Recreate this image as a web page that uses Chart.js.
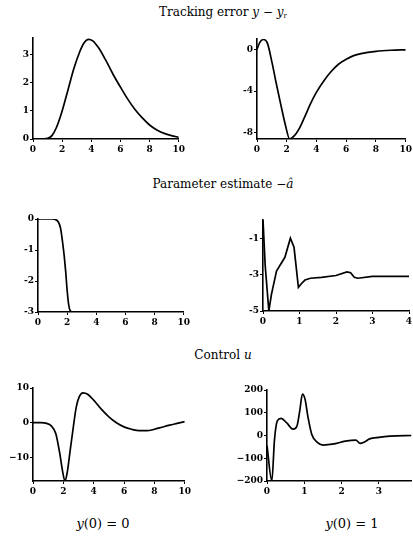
<!DOCTYPE html>
<html>
<head>
<meta charset="utf-8">
<script src="https://cdn.jsdelivr.net/npm/chart.js@4"></script>
<style>
  html, body { margin: 0; padding: 0; background: #fff; overflow: hidden; }
  #fig { position: relative; width: 413px; height: 536px; }
  #fig canvas { position: absolute; }
  .title { position: absolute; left: 0; width: 446px; text-align: center; font: 12px "DejaVu Serif", serif; color: #000; white-space: nowrap; }
  .title sub { font-size: 7px; vertical-align: -2px; line-height: 0; }
  .cap { position: absolute; width: 120px; text-align: center; font: 13px "DejaVu Serif", serif; color: #000; white-space: nowrap; }
</style>
</head>
<body>
<div id="fig">
  <div class="title" style="top:5px">Tracking error <i>y</i> − <i>y</i><sub>r</sub></div>
  <div class="title" style="top:177px">Parameter estimate −<i>â</i></div>
  <div class="title" style="top:348px">Control <i>u</i></div>
  <div class="cap" style="left:43px; top:516px"><i>y</i>(0) = 0</div>
  <div class="cap" style="left:292px; top:516px"><i>y</i>(0) = 1</div>
</div>
<script>
// DATA - tracking error, y(0)=0
const trackX0 = [0, 0.5, 1, 1.3, 1.6, 2, 2.4, 2.8, 3.2, 3.5, 3.8, 4.1, 4.5, 5, 5.5, 6, 6.5, 7, 7.5, 8, 8.5, 9, 9.5, 10];
const trackY0 = [0, 0, 0.02, 0.12, 0.4, 1.0, 1.75, 2.5, 3.1, 3.42, 3.55, 3.5, 3.25, 2.8, 2.3, 1.85, 1.42, 1.05, 0.75, 0.5, 0.32, 0.2, 0.12, 0.06];
// tracking error, y(0)=1
const trackX1 = [0, 0.2, 0.45, 0.7, 1.0, 1.3, 1.6, 1.9, 2.2, 2.5, 2.8, 3.2, 3.6, 4.0, 4.5, 5.0, 5.5, 6.0, 6.5, 7, 8, 9, 10];
const trackY1 = [0, 0.7, 0.95, 0.6, -1.2, -3.3, -5.3, -7.2, -8.6, -8.3, -7.7, -6.5, -5.2, -4.1, -3.0, -2.1, -1.4, -0.95, -0.6, -0.4, -0.18, -0.08, -0.04];
// parameter estimate, y(0)=0
const paramX0 = [0, 0.5, 1.0, 1.2, 1.4, 1.55, 1.7, 1.8, 1.9, 2.0, 2.1, 2.2, 2.35, 3, 10];
const paramY0 = [0, 0, 0, -0.02, -0.1, -0.3, -0.8, -1.2, -1.7, -2.3, -2.75, -2.95, -3, -3, -3];
// parameter estimate, y(0)=1
const paramX1 = [0, 0.06, 0.16, 0.23, 0.37, 0.6, 0.75, 0.85, 0.97, 1.05, 1.15, 1.3, 1.6, 2.0, 2.3, 2.4, 2.5, 2.6, 3.0, 4.0];
const paramY1 = [0, -2.5, -5, -4.1, -2.8, -2.05, -1.0, -1.5, -3.7, -3.5, -3.3, -3.2, -3.15, -3.05, -2.85, -2.9, -3.15, -3.2, -3.1, -3.1];
// control, y(0)=0
const ctrlX0 = [0, 0.5, 0.9, 1.2, 1.5, 1.75, 1.95, 2.1, 2.25, 2.45, 2.65, 2.85, 3.05, 3.3, 3.6, 4.0, 4.5, 5.0, 5.5, 6.0, 6.5, 7.0, 7.5, 8.0, 8.5, 9.0, 9.5, 10];
const ctrlY0 = [0, 0, -0.2, -0.9, -3.1, -8.5, -14, -16.8, -14.5, -8, -1.5, 4.5, 7.5, 8.6, 8.2, 6.5, 3.9, 1.7, 0, -1.2, -1.9, -2.3, -2.3, -1.9, -1.3, -0.7, -0.2, 0.3];
// control, y(0)=1
const ctrlX1 = [0, 0.13, 0.2, 0.28, 0.38, 0.53, 0.7, 0.8, 0.88, 0.95, 1.02, 1.1, 1.2, 1.35, 1.5, 1.8, 2.1, 2.38, 2.5, 2.6, 2.75, 3.0, 3.3, 3.9];
const ctrlY1 = [-45, -200, -20, 65, 75, 55, 28, 40, 110, 182, 160, 80, 5, -30, -42, -37, -25, -20, -35, -30, -15, -8, -3, 0];

// tick values
const xTicks10 = [0, 2, 4, 6, 8, 10];
const xTicks4 = [0, 1, 2, 3, 4];
const yTicksTrack0 = [0, 1, 2, 3];
const yTicksTrack1 = [0, -4, -8];
const yTicksParam0 = [0, -1, -2, -3];
const yTicksParam1 = [-1, -3, -5];
const yTicksCtrl0 = [10, 0, -10];
const yTicksCtrl1 = [200, 100, 0, -100, -200];

const PAD = 8, AXW = 30, AXH = 16;
const fig = document.getElementById("fig");
const tickFont = { family: "DejaVu Serif", size: 9, weight: "bold" };

function fmt(v, longMinus) {
  const s = String(v);
  return longMinus ? s.replace("-", "\u2212") : s;
}

function panel(box, xs, ys, xMin, xMax, yMin, yMax, xTicks, yTicks, smooth, longMinus) {
  const canvas = document.createElement("canvas");
  canvas.width = box.r - box.l + AXW + 2 * PAD;
  canvas.height = box.b - box.t + AXH + 2 * PAD;
  canvas.style.left = (box.l - AXW - PAD) + "px";
  canvas.style.top = (box.t - PAD) + "px";
  fig.appendChild(canvas);

  new Chart(canvas, {
    type: "line",
    data: {
      datasets: [{
        data: xs.map((x, i) => ({ x: x, y: ys[i] })),
        borderColor: "#000",
        borderWidth: 1.7,
        pointRadius: 0,
        fill: false,
        cubicInterpolationMode: smooth ? "monotone" : "default",
        tension: 0
      }]
    },
    options: {
      responsive: false,
      animation: false,
      devicePixelRatio: 1,
      layout: { padding: PAD },
      plugins: { legend: { display: false }, tooltip: { enabled: false } },
      scales: {
        x: {
          type: "linear", min: xMin, max: xMax,
          afterBuildTicks: (s) => { s.ticks = xTicks.map((v) => ({ value: v })); },
          afterFit: (s) => { s.height = AXH; },
          grid: { drawOnChartArea: false, tickLength: 3, color: "#000" },
          border: { color: "#000", width: 1.6 },
          ticks: { color: "#000", font: tickFont, padding: 2, maxRotation: 0, autoSkip: false, callback: (v) => fmt(v, false) }
        },
        y: {
          type: "linear", min: yMin, max: yMax,
          afterBuildTicks: (s) => { s.ticks = yTicks.map((v) => ({ value: v })); },
          afterFit: (s) => { s.width = AXW; },
          grid: { drawOnChartArea: false, tickLength: 3, color: "#000" },
          border: { color: "#000", width: 1.6 },
          ticks: { color: "#000", font: tickFont, padding: 1, autoSkip: false, callback: (v) => fmt(v, longMinus) }
        }
      }
    }
  });
}

panel({ l: 33, t: 38, r: 179, b: 139 }, trackX0, trackY0, 0, 10, 0, 3.6, xTicks10, yTicksTrack0, true, false);
panel({ l: 257, t: 39, r: 406, b: 139 }, trackX1, trackY1, 0, 10, -8.6, 1.0, xTicks10, yTicksTrack1, true, false);
panel({ l: 38, t: 219, r: 184, b: 312 }, paramX0, paramY0, 0, 10, -3, 0, xTicks10, yTicksParam0, true, false);
panel({ l: 263, t: 220, r: 409, b: 311 }, paramX1, paramY1, 0, 4, -5, 0, xTicks4, yTicksParam1, false, false);
panel({ l: 33, t: 388, r: 185, b: 481 }, ctrlX0, ctrlY0, 0, 10, -16.8, 10, xTicks10, yTicksCtrl0, true, true);
panel({ l: 267, t: 390, r: 413, b: 481 }, ctrlX1, ctrlY1, 0, 3.87, -200, 200, xTicks4, yTicksCtrl1, true, true);
</script>
</body>
</html>
